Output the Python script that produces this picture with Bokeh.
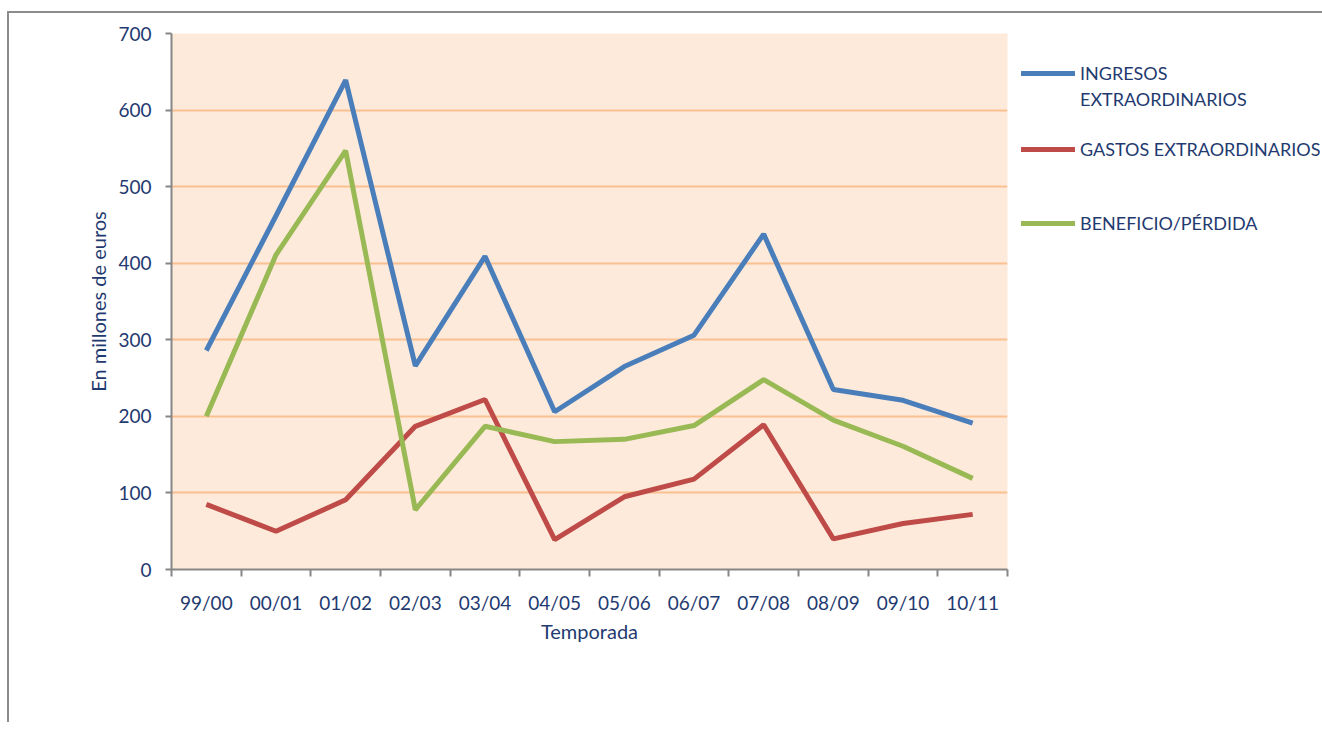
from bokeh.plotting import figure
from bokeh.models import FixedTicker, Legend, LegendItem, Range1d
from bokeh.embed import file_html
from bokeh.resources import INLINE

categories = ["99/00", "00/01", "01/02", "02/03", "03/04", "04/05",
              "05/06", "06/07", "07/08", "08/09", "09/10", "10/11"]
ingresos = [286, 462, 639, 266, 409, 206, 265, 306, 438, 235, 221, 191]
gastos = [85, 50, 91, 187, 222, 39, 95, 118, 189, 40, 60, 72]
beneficio = [200, 411, 547, 78, 187, 167, 170, 188, 248, 195, 161, 119]
y_ticks = [0, 100, 200, 300, 400, 500, 600, 700]

legend_lines = [["INGRESOS", "EXTRAORDINARIOS"], ["GASTOS EXTRAORDINARIOS"], ["BENEFICIO/PÉRDIDA"]]
colors = ["#4A7EBB", "#BE4B48", "#98B954"]

FONT = "Lato"
TXT = "#1F3A70"
AXIS = "#868686"

n = len(categories)
xs = [i + 0.5 for i in range(n)]

p = figure(frame_width=836, frame_height=536,
           min_border_left=162, min_border_top=20, min_border_bottom=153,
           min_border_right=315,
           x_range=Range1d(0, n), y_range=Range1d(0, 700),
           output_backend="svg", toolbar_location=None,
           background_fill_color="#FDEADA", border_fill_color="white",
           outline_line_color=None)
p.margin = (11, 0, 0, 7)
p.styles = {"border-left": "2px solid #8C8C8C", "border-top": "2px solid #8C8C8C"}

for vals, c in zip([ingresos, gastos, beneficio], colors):
    p.line(xs, vals, line_color=c, line_width=5)

# off-range renderers that only provide legend glyphs (round caps)
off_x = [0, 1]
off_y = [-1000, -1000]
dummies = [p.line(off_x, off_y, line_color=c, line_width=5, line_cap="round") for c in colors]
blank = p.line(off_x, off_y, line_alpha=0)

# x axis: labels at category centres, ticks at boundaries
p.xaxis.ticker = FixedTicker(ticks=xs, minor_ticks=list(range(n + 1)))
p.xaxis.major_label_overrides = {x: c for x, c in zip(xs, categories)}
p.xaxis.major_tick_out = 0
p.xaxis.major_tick_in = 0
p.xaxis.minor_tick_out = 7
p.xaxis.minor_tick_in = 0
p.xaxis.minor_tick_line_color = AXIS
p.xaxis.minor_tick_line_width = 2
p.xaxis.major_label_standoff = 14
p.xaxis.axis_label = "Temporada"
p.xaxis.axis_label_standoff = 2

p.yaxis.ticker = FixedTicker(ticks=y_ticks)
p.yaxis.major_tick_out = 6
p.yaxis.major_tick_in = 0
p.yaxis.minor_tick_line_color = None
p.yaxis.major_tick_line_color = AXIS
p.yaxis.major_tick_line_width = 2
p.yaxis.major_label_standoff = 14
p.yaxis.axis_label = "En millones de euros"
p.yaxis.axis_label_standoff = 5

for ax in [p.xaxis, p.yaxis]:
    ax.axis_line_color = AXIS
    ax.axis_line_width = 2
    ax.major_label_text_font = FONT
    ax.major_label_text_font_size = "19px"
    ax.major_label_text_color = TXT
    ax.axis_label_text_font = FONT
    ax.axis_label_text_font_size = "20px"
    ax.axis_label_text_color = TXT
    ax.axis_label_text_font_style = "normal"

p.xgrid.grid_line_color = None
p.ygrid.ticker = FixedTicker(ticks=y_ticks)
p.ygrid.grid_line_color = "#FAC08F"
p.ygrid.grid_line_width = 2

items = [
    LegendItem(label=legend_lines[0][0], renderers=[dummies[0]]),
    LegendItem(label=legend_lines[0][1], renderers=[blank]),
    LegendItem(label=" ", renderers=[blank]),
    LegendItem(label=legend_lines[1][0], renderers=[dummies[1]]),
    LegendItem(label=" ", renderers=[blank]),
    LegendItem(label=" ", renderers=[blank]),
    LegendItem(label=legend_lines[2][0], renderers=[dummies[2]]),
]
lg = Legend(items=items, location=(14, 335), orientation="vertical")
lg.border_line_color = None
lg.background_fill_alpha = 0
lg.label_text_font = FONT
lg.label_text_font_size = "18px"
lg.label_text_color = TXT
lg.glyph_width = 54
lg.glyph_height = 20
lg.label_height = 20
lg.label_standoff = 5
lg.spacing = 4
lg.padding = 0
lg.margin = 0
p.add_layout(lg, "right")

open("out.html", "w").write(file_html(p, INLINE))
